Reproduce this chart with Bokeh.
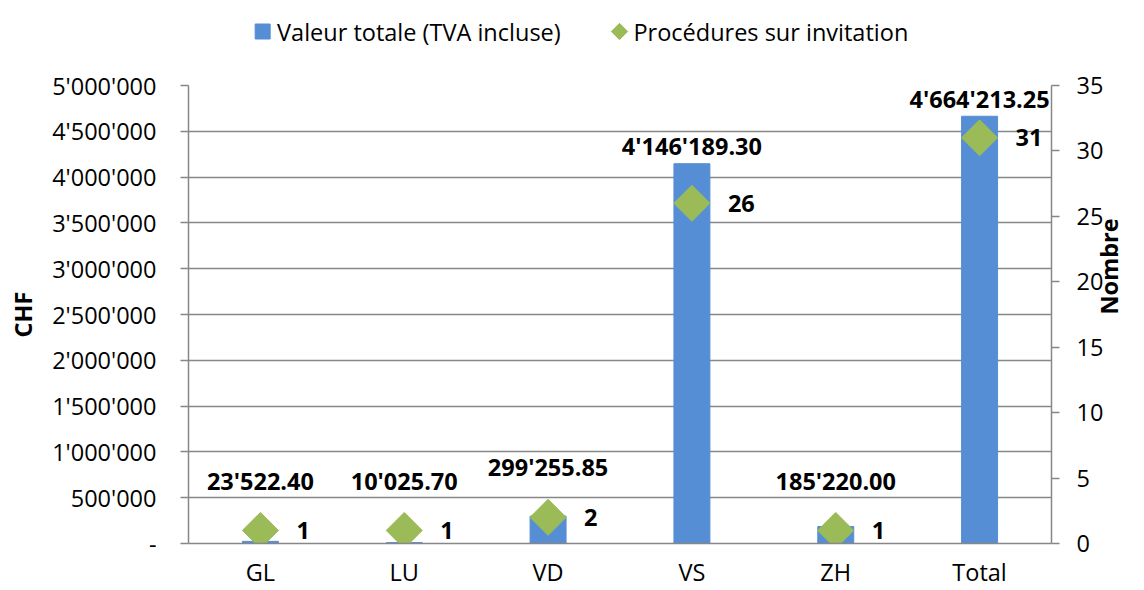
import math
import numpy as np
from bokeh.plotting import figure
from bokeh.layouts import column
from bokeh.models import (ColumnDataSource, Range1d, LinearAxis, FixedTicker,
                          LabelSet)
from bokeh.core.properties import value
from bokeh.embed import file_html
from bokeh.resources import INLINE

# ---- data ----
categories = ["GL", "LU", "VD", "VS", "ZH", "Total"]
valeur_totale = [23522.40, 10025.70, 299255.85, 4146189.30, 185220.00, 4664213.25]
procedures = [1, 1, 2, 26, 1, 31]
left_ticks = [0, 500000, 1000000, 1500000, 2000000, 2500000, 3000000, 3500000,
              4000000, 4500000, 5000000]
left_tick_labels = ["-", "500'000", "1'000'000", "1'500'000", "2'000'000", "2'500'000",
                    "3'000'000", "3'500'000", "4'000'000", "4'500'000", "5'000'000"]
right_ticks = [0, 5, 10, 15, 20, 25, 30, 35]
series_names = ["Valeur totale (TVA incluse)", "Procédures sur invitation"]

FONT = "Open Sans"
FS = "23.5px"
BLUE = "#558ED5"
GREEN = "#9BBB59"
GRID = "#878787"

W, H = 1144, 590
LEG_H = 68
MAIN_H = H - LEG_H
BL, BR, BT, BB = 188, 89, 17, 46
FRAME_H = MAIN_H - BT - BB

def fmt_chf(v):
    return f"{v:,.2f}".replace(",", "'")

LMAX = 5000000
RMAX = 35
vals = np.array(valeur_totale)
cnts = np.array(procedures, dtype=float)
# label placement (screen px above baseline): above bar, clear of diamond, inside frame
bar_px = vals / LMAX * FRAME_H
dia_px = cnts / RMAX * FRAME_H
lab_px = np.minimum(np.maximum(bar_px + 18, dia_px + 50), FRAME_H - 14)
label_anchor = lab_px / FRAME_H * LMAX

src = ColumnDataSource(dict(
    cat=categories,
    val=valeur_totale,
    cnt=procedures,
    val_txt=[fmt_chf(v) for v in valeur_totale],
    cnt_txt=[str(c) for c in procedures],
    anchor=list(label_anchor),
))

# ---------------- main chart ----------------
p = figure(x_range=categories, y_range=Range1d(0, LMAX), width=W, height=MAIN_H,
           output_backend="svg", toolbar_location=None,
           min_border_left=BL, min_border_right=BR, min_border_top=BT,
           min_border_bottom=BB)
p.extra_y_ranges = {"n": Range1d(0, RMAX)}
p.outline_line_color = None
p.background_fill_color = "white"

bars = p.vbar(x="cat", top="val", width=0.25, source=src, fill_color=BLUE,
              line_color=BLUE)
pts = p.scatter(x="cat", y="cnt", source=src, y_range_name="n", marker="square",
                size=25.5, angle=math.pi / 4, fill_color=GREEN, line_color=GREEN)

def style_axis(ax, standoff, label_standoff):
    ax.axis_line_color = GRID
    ax.axis_line_width = 1.5
    ax.major_tick_line_color = GRID
    ax.major_tick_line_width = 1.5
    ax.major_tick_in = 0
    ax.major_tick_out = 8
    ax.minor_tick_line_color = None
    ax.major_label_text_font = FONT
    ax.major_label_text_font_size = FS
    ax.major_label_text_color = "black"
    ax.major_label_standoff = standoff
    ax.axis_label_text_font = FONT
    ax.axis_label_text_font_style = "bold"
    ax.axis_label_text_font_size = FS
    ax.axis_label_text_color = "black"
    ax.axis_label_standoff = label_standoff

p.yaxis.ticker = FixedTicker(ticks=left_ticks)
p.yaxis.major_label_overrides = {t: l for t, l in zip(left_ticks, left_tick_labels)}
p.yaxis.axis_label = "CHF"
style_axis(p.yaxis[0], 24, 10)

ry = LinearAxis(y_range_name="n", ticker=FixedTicker(ticks=right_ticks),
                axis_label="Nombre")
style_axis(ry, 17, 3)
ry.axis_label_orientation = math.pi / 2
p.add_layout(ry, "right")

style_axis(p.xaxis[0], 12, 0)
p.xaxis.major_tick_line_color = None
p.xaxis.major_tick_out = 0

p.xgrid.grid_line_color = None
p.ygrid.grid_line_color = GRID
p.ygrid.grid_line_width = 1.5

vl = LabelSet(x="cat", y="anchor", text="val_txt", source=src,
              text_align="center", text_baseline="middle",
              text_font=value(FONT), text_font_size=FS, text_font_style="bold",
              text_color="black")
p.add_layout(vl)

cl = LabelSet(x="cat", y="cnt", text="cnt_txt", source=src, y_range_name="n",
              x_offset=36, y_offset=0, text_align="left", text_baseline="middle",
              text_font=value(FONT), text_font_size=FS, text_font_style="bold",
              text_color="black")
p.add_layout(cl)

# ---------------- legend strip ----------------
# The strip's frame is aligned with the chart frame (page x 188..1055); its ranges
# are set so that one unit equals one pixel of the page (y measured downward).
lg = figure(width=W, height=LEG_H, x_range=Range1d(BL, W - BR),
            y_range=Range1d(LEG_H, 0),
            output_backend="svg", toolbar_location=None,
            x_axis_type=None, y_axis_type=None,
            min_border_left=0, min_border_right=0, min_border_top=0,
            min_border_bottom=0)
lg.outline_line_color = None
lg.xgrid.visible = False
lg.ygrid.visible = False

LEG_Y = 31
leg_src = ColumnDataSource(dict(
    tx=[277.0, 635.0],
    y=[LEG_Y, LEG_Y],
    label=series_names,
))
lg.scatter(x=[262.5], y=[LEG_Y], marker="square", size=15,
           fill_color=BLUE, line_color=BLUE)
lg.scatter(x=[621.0], y=[LEG_Y], marker="square", size=11.5, angle=math.pi / 4,
           fill_color=GREEN, line_color=GREEN)
lg.text(x="tx", y="y", text="label", source=leg_src,
        text_font=value(FONT), text_font_size=FS, text_color="black",
        text_align="left", text_baseline="middle")

layout = column(lg, p, spacing=0)
open("out.html", "w").write(file_html(layout, INLINE))
